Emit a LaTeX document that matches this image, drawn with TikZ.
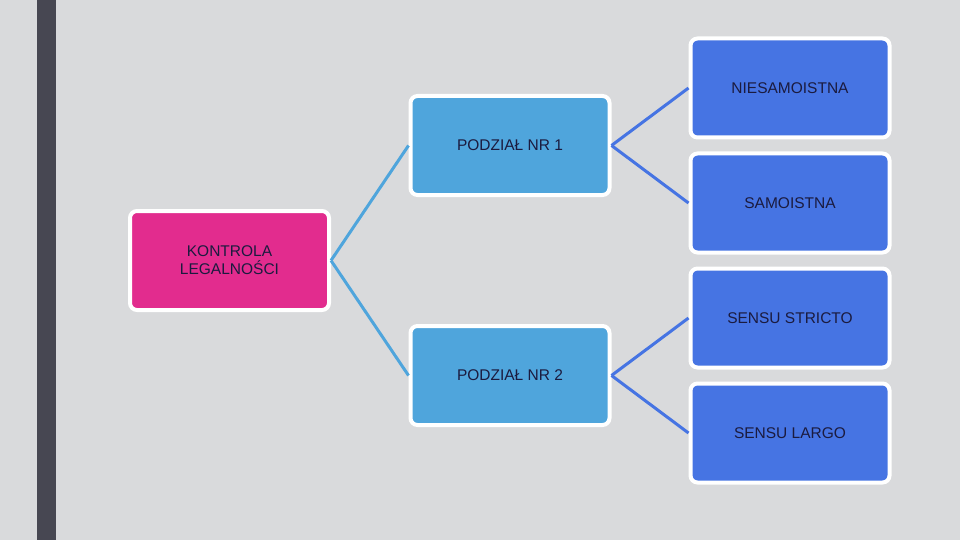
\documentclass[tikz,border=0pt]{standalone}
\usepackage{fontspec}
\setmainfont{Liberation Sans}

\definecolor{bgGrey}{HTML}{D9DADC}
\definecolor{barGrey}{HTML}{474752}
\definecolor{boxPink}{HTML}{E22C8E}
\definecolor{boxSky}{HTML}{4FA5DC}
\definecolor{boxBlue}{HTML}{4674E3}
\definecolor{textNavy}{HTML}{1B1B3F}

\begin{document}
\begin{tikzpicture}[x=1pt, y=-1pt,
    box/.style={draw=white, line width=4pt, rounded corners=7pt,
        minimum width=199pt, minimum height=99pt, align=center,
        text=textNavy, font=\fontsize{15.5}{18}\selectfont},
    link/.style={line width=3pt}]
    % Background and side bar
    \fill[bgGrey] (0,0) rectangle (960,540);
    \fill[barGrey] (37,0) rectangle (56,540);

    % Root
    \node[box, fill=boxPink] (kontrola) at (229.5,260.5) {KONTROLA\\LEGALNOŚCI};

    % First level
    \node[box, fill=boxSky] (podzial1) at (510,145.5) {PODZIAŁ NR 1};
    \node[box, fill=boxSky] (podzial2) at (510,375.5) {PODZIAŁ NR 2};

    % Second level
    \node[box, fill=boxBlue] (niesam) at (790,88) {NIESAMOISTNA};
    \node[box, fill=boxBlue] (samoistna) at (790,203) {SAMOISTNA};
    \node[box, fill=boxBlue] (stricto) at (790,318) {SENSU STRICTO};
    \node[box, fill=boxBlue] (largo) at (790,433) {SENSU LARGO};

    % Connectors
    \draw[link, boxSky] (kontrola.east) -- (podzial1.west);
    \draw[link, boxSky] (kontrola.east) -- (podzial2.west);
    \draw[link, boxBlue] (podzial1.east) -- (niesam.west);
    \draw[link, boxBlue] (podzial1.east) -- (samoistna.west);
    \draw[link, boxBlue] (podzial2.east) -- (stricto.west);
    \draw[link, boxBlue] (podzial2.east) -- (largo.west);
\end{tikzpicture}
\end{document}
